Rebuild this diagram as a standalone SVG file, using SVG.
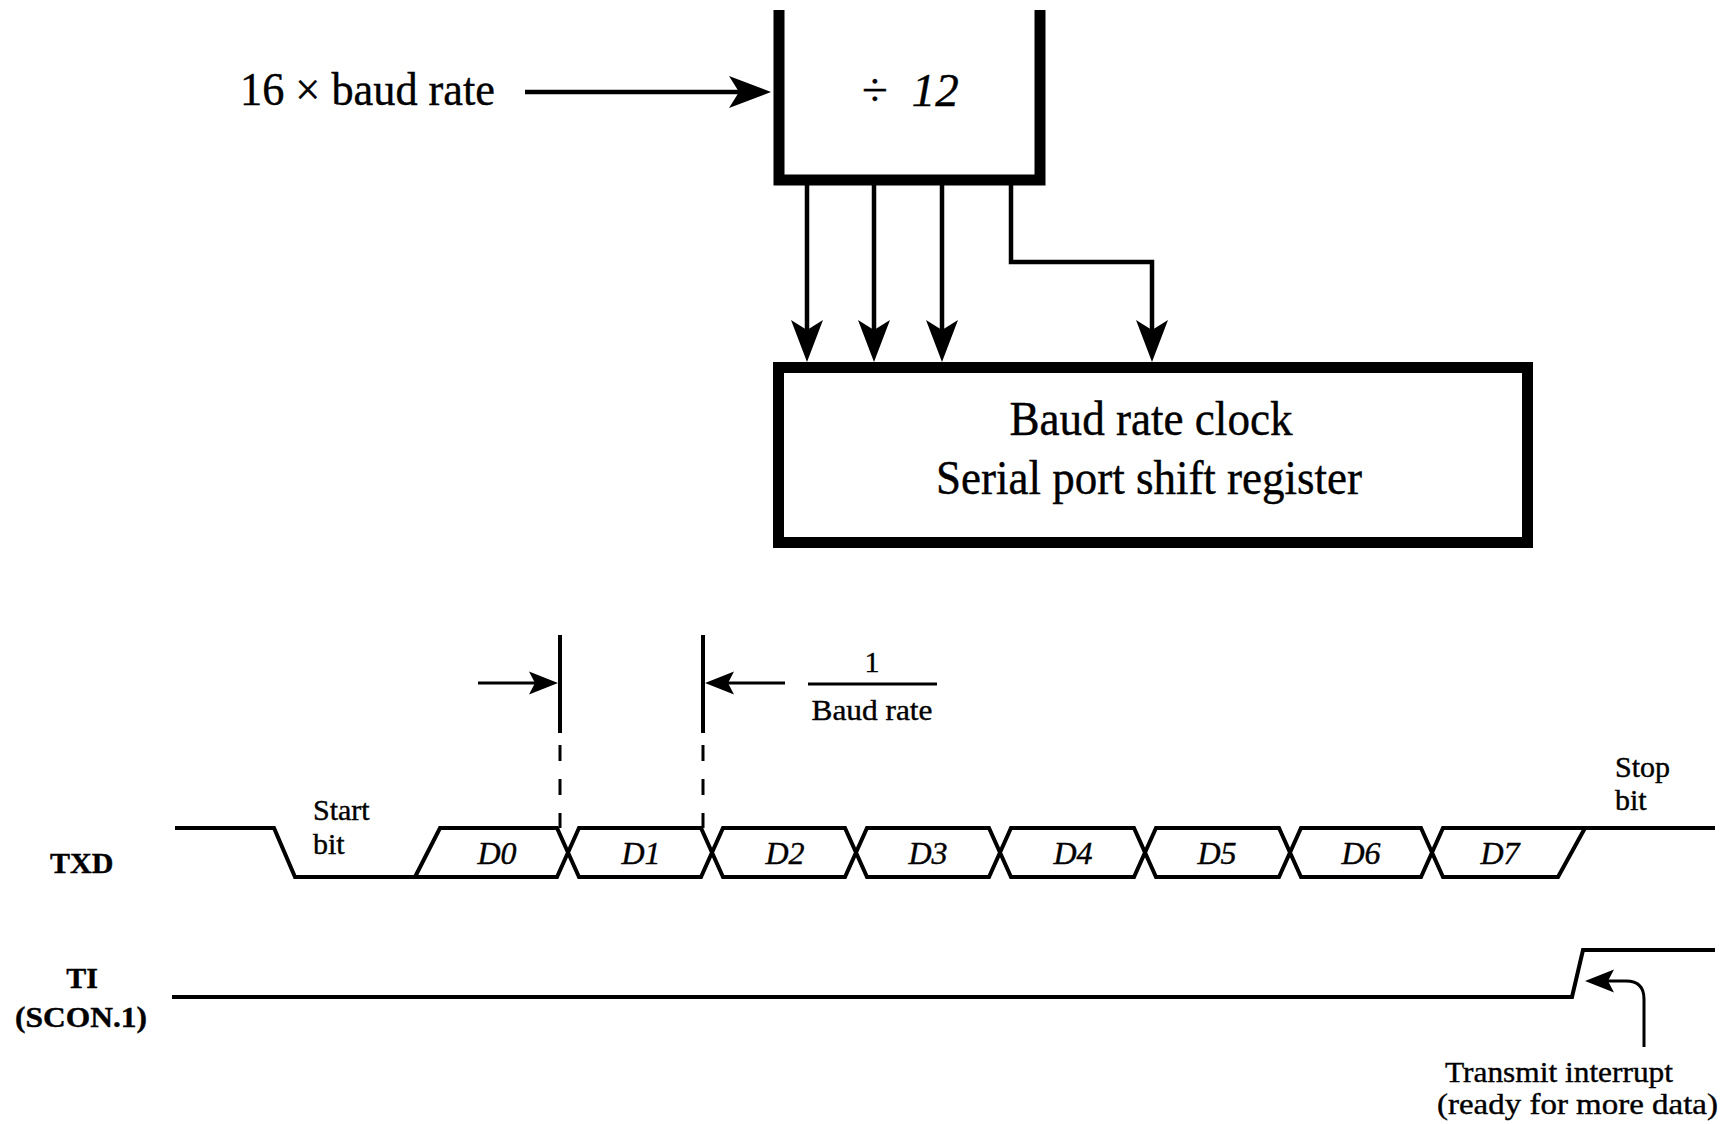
<svg xmlns="http://www.w3.org/2000/svg" width="1722" height="1124" viewBox="0 0 1722 1124">
  <style>
    text { font-family: "Liberation Serif", "Times New Roman", serif; fill: #000; stroke: #000; stroke-width: 0.4; }
    .big { font-size: 47px; }
    .box-txt { font-size: 48px; }
    .lbl { font-size: 30px; }
    .lblb { font-size: 30px; font-weight: bold; }
    .dat { font-size: 32px; font-style: italic; text-anchor: middle; }
    .thick { fill: none; stroke: #000; stroke-width: 11; stroke-linejoin: miter; }
    .wire { fill: none; stroke: #000; stroke-width: 4.5; }
    .sig { fill: none; stroke: #000; stroke-width: 4; stroke-linejoin: miter; }
    .dim { fill: none; stroke: #000; stroke-width: 4; }
    .dash { fill: none; stroke: #000; stroke-width: 3; stroke-dasharray: 16 18; }
    .thin { fill: none; stroke: #000; stroke-width: 3; }
  </style>
  <defs>
    <marker id="bigArrow" markerUnits="userSpaceOnUse" viewBox="-34 -18 46 36" markerWidth="46" markerHeight="36" refX="0" refY="0" orient="auto">
      <path d="M-32,-16 L10,0 L-32,16 L-22,0 Z" fill="#000"/>
    </marker>
    <marker id="smallArrow" markerUnits="userSpaceOnUse" viewBox="-25 -13 33 26" markerWidth="33" markerHeight="26" refX="0" refY="0" orient="auto">
      <path d="M-23,-11.5 L6,0 L-23,11.5 L-17,0 Z" fill="#000"/>
    </marker>
  </defs>
  <rect x="0" y="0" width="1722" height="1124" fill="#fff"/>

  <g id="input-label">
    <text class="big" x="240" y="105" textLength="255" lengthAdjust="spacingAndGlyphs">16 × baud rate</text>
  </g>

  <g id="divider">
    <path class="thick" d="M779,10 V180 H1040 V10"/>
    <text class="big" x="862" y="106">÷<tspan dx="24" font-style="italic">12</tspan></text>
  </g>

  <g id="register">
    <rect class="thick" x="778.5" y="367.5" width="749" height="175"/>
    <text class="box-txt" x="1151" y="435" text-anchor="middle" textLength="283" lengthAdjust="spacingAndGlyphs">Baud rate clock</text>
    <text class="box-txt" x="1149" y="494" text-anchor="middle" textLength="426" lengthAdjust="spacingAndGlyphs">Serial port shift register</text>
  </g>

  <g id="connectors">
    <line class="wire" x1="525" y1="92" x2="761" y2="92" marker-end="url(#bigArrow)"/>
    <line class="wire" x1="807" y1="185" x2="807" y2="352" marker-end="url(#bigArrow)"/>
    <line class="wire" x1="874" y1="185" x2="874" y2="352" marker-end="url(#bigArrow)"/>
    <line class="wire" x1="942" y1="185" x2="942" y2="352" marker-end="url(#bigArrow)"/>
    <path class="wire" d="M1011,185 V262 H1152 V352" marker-end="url(#bigArrow)"/>
  </g>

  <g id="txd-label">
    <text class="lblb" x="50" y="873">TXD</text>
  </g>
  <g id="start-label">
    <text class="lbl" x="313" y="820">Start</text>
    <text class="lbl" x="313" y="854">bit</text>
  </g>
  <g id="stop-label">
    <text class="lbl" x="1615" y="777">Stop</text>
    <text class="lbl" x="1615" y="810">bit</text>
  </g>

  <g id="txd-signal">
    <path class="sig" d="M175,828 H274 L295,877 H557 L579,828 H701 L723,877 H845 L867,828 H989 L1011,877 H1134 L1156,828 H1279 L1301,877 H1421 L1443,828 H1715"/>
    <path class="sig" d="M415,877 L440,828 H557 L579,877 H701 L723,828 H845 L867,877 H989 L1011,828 H1134 L1156,877 H1279 L1301,828 H1421 L1443,877 H1558 L1585,828"/>
    <text class="dat" x="497" y="864">D0</text>
    <text class="dat" x="641" y="864">D1</text>
    <text class="dat" x="785" y="864">D2</text>
    <text class="dat" x="928" y="864">D3</text>
    <text class="dat" x="1073" y="864">D4</text>
    <text class="dat" x="1217" y="864">D5</text>
    <text class="dat" x="1361" y="864">D6</text>
    <text class="dat" x="1500" y="864">D7</text>
  </g>

  <g id="bit-period">
    <line class="dim" x1="560" y1="635" x2="560" y2="733"/>
    <line class="dash" x1="560" y1="745" x2="560" y2="828"/>
    <line class="dim" x1="703" y1="635" x2="703" y2="733"/>
    <line class="dash" x1="703" y1="745" x2="703" y2="828"/>
    <line class="thin" x1="478" y1="683" x2="552" y2="683" marker-end="url(#smallArrow)"/>
    <line class="thin" x1="785" y1="683" x2="711" y2="683" marker-end="url(#smallArrow)"/>
    <line class="thin" x1="808" y1="684" x2="937" y2="684"/>
    <text class="lbl" x="872" y="672" text-anchor="middle">1</text>
    <text class="lbl" x="872" y="720" text-anchor="middle" textLength="121" lengthAdjust="spacingAndGlyphs">Baud rate</text>
  </g>

  <g id="ti-label">
    <text class="lblb" x="82" y="988" text-anchor="middle">TI</text>
    <text class="lblb" x="81" y="1027" text-anchor="middle" textLength="132" lengthAdjust="spacingAndGlyphs">(SCON.1)</text>
  </g>

  <g id="ti-signal">
    <path class="sig" d="M172,997 H1572 L1583,950 H1715"/>
  </g>

  <g id="ti-annotation">
    <path class="thin" d="M1644,1047 V999 Q1644,981 1626,981 H1591" marker-end="url(#smallArrow)"/>
    <text class="lbl" x="1445" y="1082" textLength="228" lengthAdjust="spacingAndGlyphs">Transmit interrupt</text>
    <text class="lbl" x="1437" y="1114" textLength="281" lengthAdjust="spacingAndGlyphs">(ready for more data)</text>
  </g>
</svg>
